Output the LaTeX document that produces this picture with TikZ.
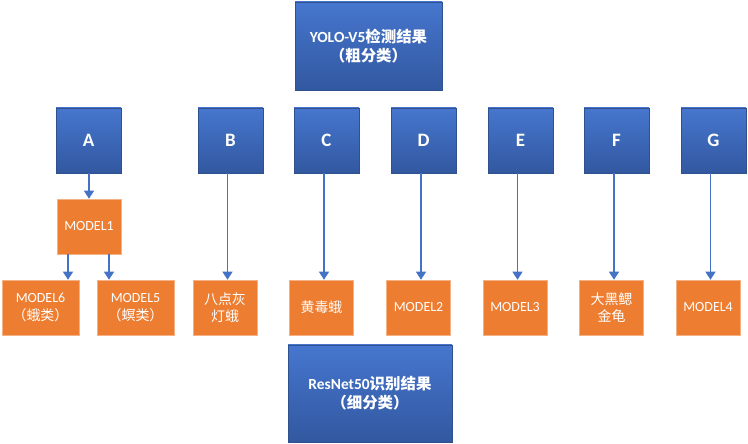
\documentclass[tikz,border=0pt]{standalone}
\usepackage{fontspec}
\setmainfont{Carlito}
\newfontfamily\cjk{Noto Sans CJK SC}
\usetikzlibrary{arrows.meta}
\definecolor{bluetop}{RGB}{70,118,206}
\definecolor{bluebot}{RGB}{50,88,160}
\definecolor{blueedge}{RGB}{47,82,143}
\definecolor{orangefill}{RGB}{237,125,49}
\definecolor{arrowblue}{RGB}{68,114,196}
\tikzset{
 bluebox/.style={draw=blueedge, line width=0.7bp, top color=bluetop, bottom color=bluebot, text=white, align=center, inner sep=0pt, font=\bfseries},
 letterbox/.style={bluebox, minimum width=65bp, minimum height=65bp, font=\bfseries\fontsize{19}{22}\selectfont},
 titlebox/.style={bluebox, font=\bfseries\fontsize{15.5}{19}\selectfont},
 orangebox/.style={draw=orangefill!60!white, line width=0.6bp, fill=orangefill, text=white, align=center, inner sep=0pt, minimum height=55bp, minimum width=64bp, font=\fontsize{14}{17.5}\selectfont},
 conn/.style={draw=arrowblue, line width=1.3bp, -{Triangle[width=10bp,length=8bp]}},
}
\begin{document}
\begin{tikzpicture}[x=1bp,y=-1bp]
\useasboundingbox[fill=white] (0,0) rectangle (748,444);
\node[titlebox, minimum width=147bp, minimum height=88bp] (top) at (368.5,46) {YOLO-V5{\cjk 检测结果}\\{\cjk （粗分类）}};
\node[titlebox, minimum width=164bp, minimum height=97bp] (bot) at (370,393.5) {ResNet50{\cjk 识别结果}\\{\cjk （细分类）}};
\node[letterbox] (A) at (88.5,140.5) {A};
\node[letterbox] (B) at (230.5,140.5) {B};
\node[letterbox] (C) at (326.5,140.5) {C};
\node[letterbox] (D) at (423.5,140.5) {D};
\node[letterbox] (E) at (520.5,140.5) {E};
\node[letterbox] (F) at (616.5,140.5) {F};
\node[letterbox] (G) at (713.5,140.5) {G};
\node[orangebox] (m1) at (89,226.5) {MODEL1};
\node[orangebox, minimum width=77bp] (m6) at (40.5,307.5) {MODEL6\\{\cjk （蛾类）}};
\node[orangebox, minimum width=77bp] (m5) at (135.5,307.5) {MODEL5\\{\cjk （螟类）}};
\node[orangebox] (ob) at (225,307.5) {{\cjk 八点灰}\\{\cjk 灯蛾}};
\node[orangebox] (oc) at (321.5,307.5) {{\cjk 黄毒蛾}};
\node[orangebox] (od) at (418.5,307.5) {MODEL2};
\node[orangebox] (oe) at (515,307.5) {MODEL3};
\node[orangebox] (of) at (611.5,307.5) {{\cjk 大黑鳃}\\{\cjk 金龟}};
\node[orangebox] (og) at (708,307.5) {MODEL4};
\draw[conn] (A.south -| m1.north) -- (m1.north);
\draw[conn] ([xshift=-21bp]m1.south) -- ([xshift=-21bp]m1.south |- m6.north);
\draw[conn] ([xshift=20bp]m1.south) -- ([xshift=20bp]m1.south |- m5.north);
\foreach \s/\t in {B/ob,C/oc,D/od,E/oe,F/of,G/og}{
  \draw[conn] ([xshift=2.5bp]\t.north |- \s.south) -- ([xshift=2.5bp]\t.north);
}
\end{tikzpicture}
\end{document}
